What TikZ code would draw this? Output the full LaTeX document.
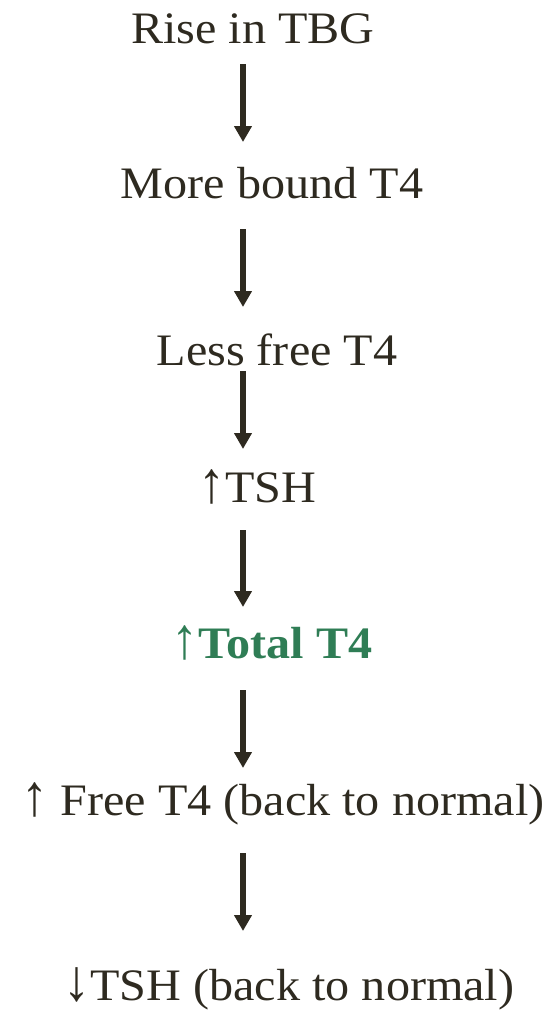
\documentclass[tikz,border=0pt]{standalone}
\usepackage{graphicx}
\usepackage{fontspec}
\setmainfont{Liberation Serif}[FakeStretch=1.07]
\usetikzlibrary{arrows.meta}
\definecolor{ink}{RGB}{46,42,32}
\definecolor{leaf}{RGB}{47,125,85}
% taller up/down arrow glyphs
\newcommand\uparr{\scalebox{1.12}[1.3]{↑}}
\newcommand\downarr{\scalebox{1.12}[1.3]{↓}}
\begin{document}
\begin{tikzpicture}[x=1pt,y=1pt,
  label/.style={anchor=base,inner sep=0pt,text=ink,font=\fontsize{45}{54}\selectfont},
  key/.style={label,text=leaf,font=\fontsize{45}{54}\selectfont\bfseries},
  flow/.style={draw=ink,line width=6pt,-{Triangle[width=17pt,length=16pt]}}]
\useasboundingbox (0,0) rectangle (559,-1013);
% chain of steps
\node[label] (tbg)   at (253,-43)   {Rise in TBG};
\node[label] (bound) at (272,-198)  {More bound T4};
\node[label] (less)  at (277,-365)  {Less free T4};
\node[label] (tsh)   at (257,-502)  {\uparr TSH};
\node[key]   (total) at (272,-658)  {\uparr Total T4};
\node[label] (free)  at (283,-815)  {\uparr{} Free T4 (back to normal)};
\node[label] (low)   at (289,-1000) {\downarr TSH (back to normal)};
% arrow ends
\coordinate (s1) at (243,-64);  \coordinate (e1) at (243,-142);
\coordinate (s2) at (243,-229); \coordinate (e2) at (243,-307);
\coordinate (s3) at (243,-371); \coordinate (e3) at (243,-449);
\coordinate (s4) at (243,-530); \coordinate (e4) at (243,-607);
\coordinate (s5) at (243,-690); \coordinate (e5) at (243,-768);
\coordinate (s6) at (243,-853); \coordinate (e6) at (243,-931);
\draw[flow] (s1) -- (e1);
\draw[flow] (s2) -- (e2);
\draw[flow] (s3) -- (e3);
\draw[flow] (s4) -- (e4);
\draw[flow] (s5) -- (e5);
\draw[flow] (s6) -- (e6);
\end{tikzpicture}
\end{document}
